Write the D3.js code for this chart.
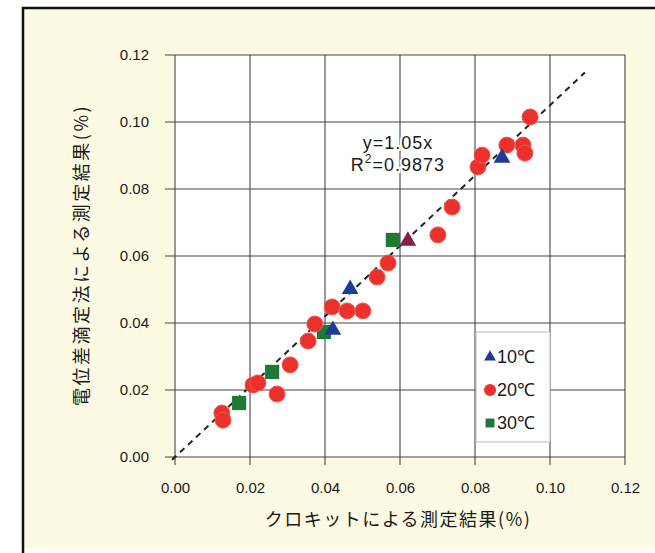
<!DOCTYPE html>
<html>
<head>
<meta charset="utf-8">
<script src="https://cdn.jsdelivr.net/npm/d3@7"></script>
<style>
  body { margin: 0; background: #fff; }
  svg { display: block; }
  .tick text { font-family: "Liberation Sans", Arial, sans-serif; font-size: 15px; fill: #1a1a1a; }
  .lbl { font-family: "Noto Sans CJK JP", sans-serif; font-size: 18px; fill: #1a1a1a; }
  .ann { font-family: "Liberation Sans", Arial, sans-serif; font-size: 18px; fill: #1a1a1a; }
</style>
</head>
<body>
<div id="chart"></div>
<script>
// tick values (both axes)
var ticks = [0, 0.02, 0.04, 0.06, 0.08, 0.10, 0.12];

// 20℃ (circles) - [クロキット, 電位差滴定法]
var pts20 = [
  [0.0125, 0.0131], [0.0128, 0.0110], [0.0208, 0.0215], [0.0221, 0.0221],
  [0.0272, 0.0188], [0.0307, 0.0275], [0.0355, 0.0346], [0.0373, 0.0397],
  [0.0419, 0.0448], [0.0459, 0.0436], [0.0501, 0.0436], [0.0539, 0.0537],
  [0.0568, 0.0579], [0.0701, 0.0663], [0.0739, 0.0746], [0.0808, 0.0866],
  [0.0819, 0.0901], [0.0885, 0.0931], [0.0928, 0.0931], [0.0933, 0.0907],
  [0.0947, 0.1015]
];
// 30℃ (squares)
var pts30 = [[0.0171, 0.0161], [0.0259, 0.0254], [0.0397, 0.0373], [0.0581, 0.0648]];
// 10℃ (triangles)
var pts10 = [[0.0421, 0.0382], [0.0467, 0.0504], [0.0621, 0.0648], [0.0872, 0.0896]];

var slope = 1.05, fitEnd = 0.1093;

var W = 655, H = 553;
var m = {left: 175, right: 30, top: 55, bottom: 96};

var svg = d3.select('#chart').append('svg')
    .attr('width', W)
    .attr('height', H);

// beige frame
svg.append('rect')
    .attr('x', 23).attr('y', 8)
    .attr('width', W - 23).attr('height', 540)
    .attr('fill', '#fcfae3');
svg.append('path')
    .attr('d', 'M23,553 V8 H655')
    .attr('fill', 'none')
    .attr('stroke', '#111')
    .attr('stroke-width', 2.5);

var x = d3.scaleLinear().domain([0, 0.12]).range([m.left, W - m.right]);
var y = d3.scaleLinear().domain([0, 0.12]).range([H - m.bottom, m.top]);

// plot background
svg.append('rect')
    .attr('x', x(0)).attr('y', y(0.12))
    .attr('width', x(0.12) - x(0)).attr('height', y(0) - y(0.12))
    .attr('fill', '#fff');

// grid
var grid = svg.append('g').attr('stroke', '#444').attr('stroke-width', 1.1);
grid.selectAll('.gx').data(ticks).enter().append('line')
    .attr('x1', function(d){ return x(d); }).attr('x2', function(d){ return x(d); })
    .attr('y1', y(0.12)).attr('y2', y(0) + 8);
grid.selectAll('.gy').data(ticks).enter().append('line')
    .attr('y1', function(d){ return y(d); }).attr('y2', function(d){ return y(d); })
    .attr('x1', x(0) - 10).attr('x2', x(0.12));

// axes (labels only)
var fmt = d3.format('.2f');
svg.append('g')
    .attr('transform', 'translate(0,' + (y(0) + 22) + ')')
    .call(d3.axisBottom(x).tickValues(ticks).tickFormat(fmt).tickSize(0))
    .call(function(g){ g.select('.domain').remove(); });
svg.append('g')
    .attr('transform', 'translate(' + (x(0) - 23) + ',0)')
    .call(d3.axisLeft(y).tickValues(ticks).tickFormat(fmt).tickSize(0))
    .call(function(g){ g.select('.domain').remove(); });

// fit line
svg.append('line')
    .attr('x1', x(-0.0008)).attr('y1', y(-0.0008 * slope))
    .attr('x2', x(fitEnd)).attr('y2', y(fitEnd * slope))
    .attr('stroke', '#222')
    .attr('stroke-width', 2)
    .attr('stroke-dasharray', '6,5');

// markers
var red = '#ec302b', green = '#1c7a34', blue = '#1d3a96';
var sym = {
  tri: d3.symbol().type(d3.symbolTriangle).size(120),
  sq: d3.symbol().type(d3.symbolSquare).size(200)
};

svg.append('g').selectAll('rect').data(pts30).enter().append('path')
    .attr('d', sym.sq)
    .attr('transform', function(d){ return 'translate(' + x(d[0]) + ',' + y(d[1]) + ')'; })
    .attr('fill', green);

svg.append('g').selectAll('circle').data(pts20).enter().append('circle')
    .attr('cx', function(d){ return x(d[0]); })
    .attr('cy', function(d){ return y(d[1]); })
    .attr('r', 8)
    .attr('fill', red)
    .attr('stroke', '#f05a50')
    .attr('stroke-width', 1);

svg.append('g').selectAll('path').data(pts10).enter().append('path')
    .attr('d', sym.tri)
    .attr('transform', function(d){ return 'translate(' + x(d[0]) + ',' + (y(d[1]) + 1) + ')'; })
    // one triangle printed over a red mark shows up maroon
    .attr('fill', function(d, i){ return i === 2 ? '#8a1d4c' : blue; });

// annotation
var ann = svg.append('g').attr('class', 'ann').attr('text-anchor', 'middle').attr('letter-spacing', 1);
ann.append('text').attr('x', 398).attr('y', 149)
    .attr('stroke', '#fff').attr('stroke-width', 4).attr('paint-order', 'stroke')
    .text('y=1.05x');
var r2 = ann.append('text').attr('x', 398).attr('y', 171)
    .attr('stroke', '#fff').attr('stroke-width', 4).attr('paint-order', 'stroke');
r2.append('tspan').text('R');
r2.append('tspan').attr('dy', -8).attr('font-size', 12).text('2');
r2.append('tspan').attr('dy', 8).text('=0.9873');

// legend
var lg = svg.append('g');
lg.append('rect')
    .attr('x', x(0.08) + 1).attr('y', 332)
    .attr('width', x(0.10) - x(0.08) - 1).attr('height', 110)
    .attr('fill', '#fff')
    .attr('stroke', '#bbb');
var legItems = [
  {t: '10℃', k: 'tri', c: blue},
  {t: '20℃', k: 'circ', c: red},
  {t: '30℃', k: 'sq', c: green}
];
legItems.forEach(function(d, i){
  var cy = 357 + i * 33;
  if (d.k === 'circ') {
    lg.append('circle').attr('cx', 490).attr('cy', cy).attr('r', 6).attr('fill', d.c);
  } else {
    lg.append('path')
      .attr('d', d3.symbol().type(d.k === 'tri' ? d3.symbolTriangle : d3.symbolSquare).size(d.k === 'tri' ? 60 : 80))
      .attr('transform', 'translate(490,' + cy + ')')
      .attr('fill', d.c);
  }
  lg.append('text')
    .attr('class', 'ann')
    .attr('x', 497).attr('y', cy + 6)
    .attr('font-size', 17)
    .text(d.t);
});

// axis titles
svg.append('text')
    .attr('class', 'lbl')
    .attr('x', 398).attr('y', 526)
    .attr('text-anchor', 'middle')
    .attr('letter-spacing', 1.5)
    .text('クロキットによる測定結果(%)');
svg.append('text')
    .attr('class', 'lbl')
    .attr('transform', 'translate(88,255) rotate(-90)')
    .attr('text-anchor', 'middle')
    .attr('letter-spacing', 2.5)
    .text('電位差滴定法による測定結果(%)');
</script>
</body>
</html>
